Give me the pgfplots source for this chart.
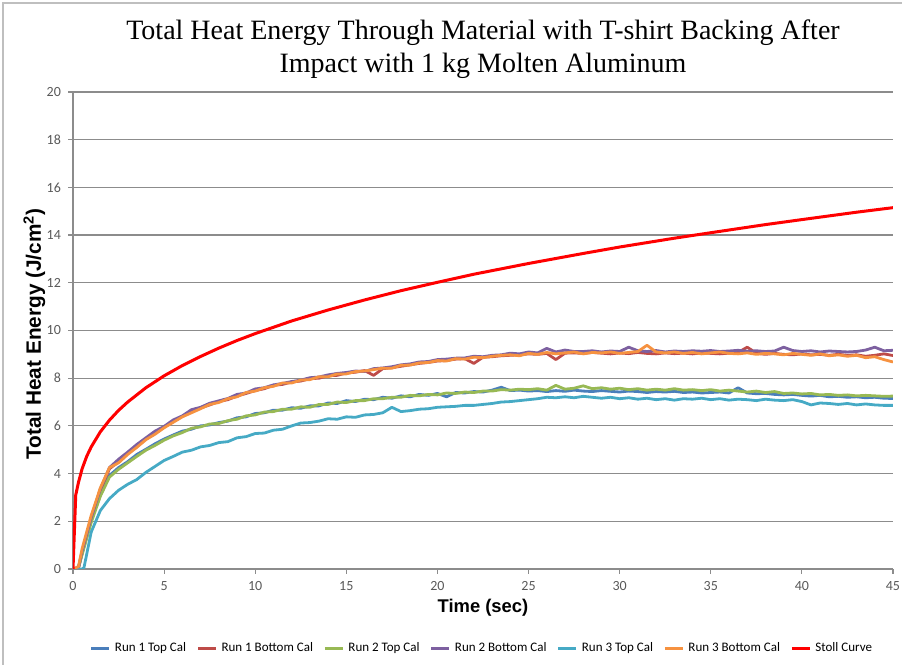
\documentclass[border=0pt]{standalone}
\usepackage{fontspec}
\setmainfont{Liberation Serif}
\newfontfamily\calibri{Carlito}
\newfontfamily\arial{Liberation Sans}
\usepackage{pgfplots}
\usepackage{pgfplotstable}
\pgfplotsset{compat=1.18}

\definecolor{runAtop}{HTML}{4A7EBB}
\definecolor{runAbot}{HTML}{BE4B48}
\definecolor{runBtop}{HTML}{98B954}
\definecolor{runBbot}{HTML}{7D60A0}
\definecolor{runCtop}{HTML}{46AAC5}
\definecolor{runCbot}{HTML}{F69240}
\definecolor{stoll}{HTML}{FF0000}
\definecolor{gridc}{HTML}{8C8C8C}
\definecolor{tickc}{HTML}{595959}
\definecolor{framec}{HTML}{BFBFBF}

% Run 1 Top Cal
\pgfplotstableread{
t q
0 0
0.3 0.05
0.5 0.65
1 2.05
1.5 3.1
2 3.92
2.5 4.25
3 4.5
3.5 4.8
4 5.02
4.5 5.25
5 5.45
5.5 5.62
6 5.78
6.5 5.86
7 6.0
7.5 6.04
8 6.14
8.5 6.2
9 6.34
9.5 6.38
10 6.52
10.5 6.55
11 6.66
11.5 6.66
12 6.76
12.5 6.74
13 6.84
13.5 6.84
14 6.96
14.5 6.94
15 7.06
15.5 7.02
16 7.12
16.5 7.1
17 7.2
17.5 7.16
18 7.26
18.5 7.22
19 7.32
19.5 7.28
20 7.36
20.5 7.22
21 7.4
21.5 7.38
22 7.44
22.5 7.42
23 7.5
23.5 7.62
24 7.48
24.5 7.5
25 7.46
25.5 7.48
26 7.44
26.5 7.48
27 7.45
27.5 7.5
28 7.46
28.5 7.44
29 7.48
29.5 7.45
30 7.42
30.5 7.46
31 7.44
31.5 7.4
32 7.44
32.5 7.42
33 7.45
33.5 7.4
34 7.42
34.5 7.38
35 7.4
35.5 7.42
36 7.38
36.5 7.6
37 7.38
37.5 7.35
38 7.36
38.5 7.32
39 7.3
39.5 7.32
40 7.28
40.5 7.25
41 7.28
41.5 7.22
42 7.24
42.5 7.2
43 7.22
43.5 7.18
44 7.2
44.5 7.16
45 7.15
}\runonetop

% Run 1 Bottom Cal
\pgfplotstableread{
t q
0 0
0.3 0.05
0.5 0.7
1 2.1
1.5 3.3
2 4.2
2.5 4.5
3 4.85
3.5 5.12
4 5.45
4.5 5.68
5 5.95
5.5 6.18
6 6.4
6.5 6.58
7 6.75
7.5 6.88
8 7.02
8.5 7.1
9 7.25
9.5 7.36
10 7.48
10.5 7.56
11 7.7
11.5 7.74
12 7.84
12.5 7.88
13 7.98
13.5 8.0
14 8.1
14.5 8.12
15 8.22
15.5 8.25
16 8.32
16.5 8.12
17 8.4
17.5 8.44
18 8.5
18.5 8.56
19 8.62
19.5 8.66
20 8.72
20.5 8.74
21 8.8
21.5 8.82
22 8.62
22.5 8.88
23 8.9
23.5 8.94
24 8.96
24.5 8.98
25 9.02
25.5 9.0
26 9.04
26.5 8.78
27 9.05
27.5 9.06
28 9.04
28.5 9.08
29 9.05
29.5 9.02
30 9.06
30.5 9.03
31 9.08
31.5 9.04
32 9.02
32.5 9.06
33 9.03
33.5 9.05
34 9.02
34.5 9.06
35 9.04
35.5 9.02
36 9.05
36.5 9.08
37 9.3
37.5 9.05
38 9.0
38.5 9.04
39 9.0
39.5 8.98
40 9.02
40.5 8.98
41 9.0
41.5 8.96
42 9.0
42.5 8.96
43 8.98
43.5 8.92
44 8.96
44.5 9.02
45 8.95
}\runonebot

% Run 2 Top Cal
\pgfplotstableread{
t q
0 0
0.3 0.05
0.5 0.6
1 1.95
1.5 3.05
2 3.85
2.5 4.18
3 4.45
3.5 4.72
4 4.98
4.5 5.18
5 5.4
5.5 5.58
6 5.72
6.5 5.9
7 5.96
7.5 6.08
8 6.1
8.5 6.22
9 6.28
9.5 6.42
10 6.46
10.5 6.58
11 6.6
11.5 6.7
12 6.7
12.5 6.8
13 6.78
13.5 6.9
14 6.9
14.5 7.0
15 6.98
15.5 7.06
16 7.06
16.5 7.14
17 7.14
17.5 7.2
18 7.2
18.5 7.28
19 7.26
19.5 7.32
20 7.3
20.5 7.38
21 7.36
21.5 7.42
22 7.4
22.5 7.46
23 7.46
23.5 7.52
24 7.5
24.5 7.54
25 7.52
25.5 7.56
26 7.5
26.5 7.7
27 7.54
27.5 7.58
28 7.68
28.5 7.56
29 7.6
29.5 7.54
30 7.58
30.5 7.52
31 7.56
31.5 7.5
32 7.54
32.5 7.5
33 7.56
33.5 7.5
34 7.52
34.5 7.48
35 7.52
35.5 7.46
36 7.5
36.5 7.46
37 7.42
37.5 7.46
38 7.4
38.5 7.44
39 7.36
39.5 7.38
40 7.34
40.5 7.36
41 7.3
41.5 7.32
42 7.28
42.5 7.3
43 7.26
43.5 7.28
44 7.26
44.5 7.24
45 7.25
}\runtwotop

% Run 2 Bottom Cal
\pgfplotstableread{
t q
0 0
0.3 0.05
0.5 0.75
1 2.15
1.5 3.35
2 4.25
2.5 4.6
3 4.9
3.5 5.22
4 5.5
4.5 5.78
5 5.98
5.5 6.25
6 6.42
6.5 6.68
7 6.78
7.5 6.95
8 7.05
8.5 7.15
9 7.32
9.5 7.38
10 7.55
10.5 7.6
11 7.72
11.5 7.78
12 7.86
12.5 7.92
13 8.02
13.5 8.05
14 8.14
14.5 8.2
15 8.24
15.5 8.3
16 8.28
16.5 8.4
17 8.43
17.5 8.48
18 8.56
18.5 8.6
19 8.68
19.5 8.7
20 8.78
20.5 8.8
21 8.84
21.5 8.85
22 8.92
22.5 8.9
23 8.96
23.5 8.98
24 9.05
24.5 9.02
25 9.1
25.5 9.06
26 9.25
26.5 9.1
27 9.18
27.5 9.12
28 9.12
28.5 9.15
29 9.1
29.5 9.14
30 9.12
30.5 9.3
31 9.15
31.5 9.12
32 9.16
32.5 9.1
33 9.14
33.5 9.12
34 9.15
34.5 9.13
35 9.16
35.5 9.12
36 9.14
36.5 9.17
37 9.13
37.5 9.15
38 9.12
38.5 9.14
39 9.3
39.5 9.16
40 9.12
40.5 9.15
41 9.1
41.5 9.14
42 9.12
42.5 9.1
43 9.12
43.5 9.18
44 9.3
44.5 9.15
45 9.17
}\runtwobot

% Run 3 Top Cal
\pgfplotstableread{
t q
0 0
0.5 0
0.6 0.05
1 1.55
1.5 2.45
2 2.95
2.5 3.3
3 3.55
3.5 3.75
4 4.05
4.5 4.3
5 4.55
5.5 4.72
6 4.9
6.5 4.98
7 5.12
7.5 5.18
8 5.3
8.5 5.34
9 5.5
9.5 5.55
10 5.68
10.5 5.7
11 5.82
11.5 5.86
12 6.0
12.5 6.12
13 6.14
13.5 6.2
14 6.3
14.5 6.28
15 6.38
15.5 6.36
16 6.46
16.5 6.48
17 6.55
17.5 6.78
18 6.6
18.5 6.64
19 6.7
19.5 6.72
20 6.78
20.5 6.8
21 6.82
21.5 6.86
22 6.86
22.5 6.9
23 6.94
23.5 7.0
24 7.02
24.5 7.06
25 7.1
25.5 7.14
26 7.2
26.5 7.18
27 7.22
27.5 7.18
28 7.24
28.5 7.2
29 7.16
29.5 7.2
30 7.14
30.5 7.18
31 7.12
31.5 7.16
32 7.1
32.5 7.14
33 7.08
33.5 7.14
34 7.12
34.5 7.16
35 7.1
35.5 7.14
36 7.08
36.5 7.12
37 7.1
37.5 7.06
38 7.12
38.5 7.08
39 7.06
39.5 7.1
40 7.02
40.5 6.88
41 6.96
41.5 6.94
42 6.9
42.5 6.94
43 6.88
43.5 6.92
44 6.88
44.5 6.86
45 6.86
}\runthreetop

% Run 3 Bottom Cal
\pgfplotstableread{
t q
0 0
0.3 0.1
0.5 0.85
1 2.25
1.5 3.4
2 4.25
2.5 4.45
3 4.8
3.5 5.1
4 5.42
4.5 5.65
5 5.92
5.5 6.15
6 6.38
6.5 6.55
7 6.72
7.5 6.9
8 6.98
8.5 7.14
9 7.22
9.5 7.4
10 7.46
10.5 7.6
11 7.66
11.5 7.8
12 7.8
12.5 7.92
13 7.94
13.5 8.06
14 8.06
14.5 8.18
15 8.18
15.5 8.28
16 8.3
16.5 8.36
17 8.42
17.5 8.42
18 8.54
18.5 8.55
19 8.64
19.5 8.66
20 8.74
20.5 8.72
21 8.82
21.5 8.8
22 8.88
22.5 8.86
23 8.92
23.5 8.96
24 8.98
24.5 8.94
25 9.04
25.5 9.0
26 9.08
26.5 9.02
27 9.06
27.5 9.1
28 9.02
28.5 9.08
29 9.06
29.5 9.1
30 9.04
30.5 9.08
31 9.12
31.5 9.38
32 9.1
32.5 9.06
33 9.1
33.5 9.04
34 9.08
34.5 9.02
35 9.06
35.5 9.1
36 9.04
36.5 9.02
37 9.06
37.5 9.0
38 9.04
38.5 9.02
39 8.98
39.5 9.04
40 9.0
40.5 8.96
41 9.02
41.5 8.94
42 8.98
42.5 8.92
43 8.96
43.5 8.86
44 8.9
44.5 8.78
45 8.68
}\runthreebot

% Stoll Curve
\pgfplotstableread{
t q
0 0
0.15 3.1
0.3 3.63
0.5 4.2
0.75 4.72
1 5.12
1.5 5.75
2 6.24
2.5 6.65
3 7.0
4 7.6
5 8.1
6 8.53
7 8.91
8 9.26
9 9.58
10 9.87
12 10.4
14 10.86
16 11.28
18 11.67
20 12.02
22 12.36
25 12.81
28 13.23
30 13.5
33 13.87
35 14.1
38 14.44
40 14.65
43 14.96
45 15.15
}\stollcurve

\begin{document}
\begin{tikzpicture}
\useasboundingbox (0,0) rectangle (451pt,332.5pt);
\draw[framec, line width=0.6pt] (1.5pt,0pt) -- (1.5pt,331pt) -- (451pt,331pt);

\begin{axis}[
    at={(36.5pt,48pt)}, anchor=south west,
    scale only axis,
    width=410pt, height=238.5pt,
    xmin=0, xmax=45, ymin=0, ymax=20,
    xtick={0,5,...,45},
    ytick={0,2,...,20},
    axis lines*=left,
    axis line style={gridc, line width=0.6pt},
    ymajorgrids,
    grid style={gridc, line width=0.6pt},
    tick align=outside,
    major tick length=2.5pt,
    tick style={gridc, line width=0.6pt},
    ticklabel style={font=\calibri\fontsize{7}{8}\selectfont, text=tickc},
    /pgf/number format/assume math mode=true,
    xlabel={Time (sec)},
    ylabel={Total Heat Energy (J/cm\textsuperscript{2})},
    xlabel style={font=\arial\bfseries\fontsize{9.2}{10}\selectfont,
        at={(axis description cs:0.5,0)}, anchor=center, yshift=-19.5pt},
    ylabel style={font=\arial\bfseries\fontsize{10.4}{11}\selectfont,
        at={(axis description cs:-0.047,0.493)}, anchor=center},
    legend columns=7,
    legend style={at={(0.5,-0.166)}, anchor=center, draw=none,
        font=\calibri\fontsize{6.5}{7.5}\selectfont, inner sep=0pt,
        /tikz/every even column/.append style={column sep=3.2pt}},
    legend image code/.code={\draw[#1, line width=1.5pt] (0pt,0pt) -- (9pt,0pt);},
    every axis plot/.append style={line width=1.4pt, line join=round},
]
\addplot[runAtop] table[x=t, y=q] {\runonetop};
\addlegendentry{Run 1 Top Cal}
\addplot[runAbot] table[x=t, y=q] {\runonebot};
\addlegendentry{Run 1 Bottom Cal}
\addplot[runBtop] table[x=t, y=q] {\runtwotop};
\addlegendentry{Run 2 Top Cal}
\addplot[runBbot] table[x=t, y=q] {\runtwobot};
\addlegendentry{Run 2 Bottom Cal}
\addplot[runCtop] table[x=t, y=q] {\runthreetop};
\addlegendentry{Run 3 Top Cal}
\addplot[runCbot] table[x=t, y=q] {\runthreebot};
\addlegendentry{Run 3 Bottom Cal}
\addplot[stoll, line width=1.5pt] table[x=t, y=q] {\stollcurve};
\addlegendentry{Stoll Curve}
\end{axis}

\node[font=\fontsize{14}{16}\selectfont] at (241.5pt,316pt) {Total Heat Energy Through Material with T-shirt Backing After};
\node[font=\fontsize{14}{16}\selectfont] at (241.5pt,299.5pt) {Impact with 1 kg Molten Aluminum};
\end{tikzpicture}
\end{document}
